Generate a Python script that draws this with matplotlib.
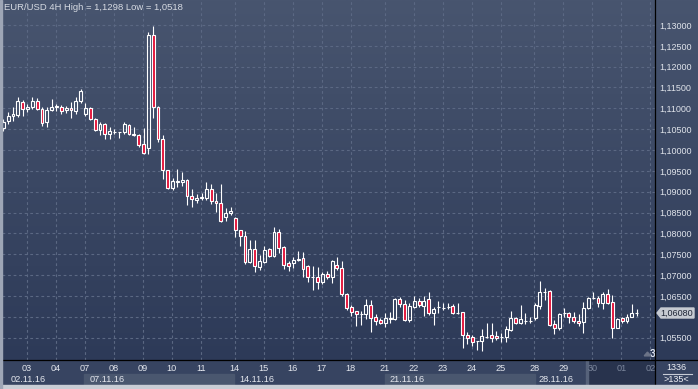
import numpy as np
import matplotlib
matplotlib.use("Agg")
import matplotlib.pyplot as plt
from matplotlib.patches import Rectangle, Polygon
from matplotlib.lines import Line2D
from matplotlib.colors import LinearSegmentedColormap

# EUR/USD 4H candles, 02.11.16 - 01.12.16
opens = [1.1053, 1.1070, 1.1082, 1.1084, 1.1116, 1.1098, 1.1102, 1.1118, 1.1098, 1.1066,
         1.1096, 1.1102, 1.1102, 1.1096, 1.1100, 1.1094, 1.1118, 1.1086, 1.1100, 1.1074,
         1.1048, 1.1062, 1.1038, 1.1042, 1.1042, 1.1042, 1.1059, 1.1038, 1.1036, 1.1014,
         1.1005, 1.1276, 1.1104, 1.1026, 1.0952, 1.0910, 1.0924, 1.0924, 1.0928, 1.0890,
         1.0880, 1.0884, 1.0884, 1.0906, 1.0878, 1.0872, 1.0838, 1.0848, 1.0836, 1.0808,
         1.0794, 1.0732, 1.0762, 1.0720, 1.0732, 1.0762, 1.0746, 1.0802, 1.0766, 1.0728,
         1.0728, 1.0736, 1.0740, 1.0722, 1.0696, 1.0696, 1.0682, 1.0702, 1.0696, 1.0724,
         1.0716, 1.0654, 1.0622, 1.0614, 1.0606, 1.0606, 1.0628, 1.0598, 1.0592, 1.0584,
         1.0594, 1.0594, 1.0642, 1.0630, 1.0592, 1.0624, 1.0638, 1.0626, 1.0642, 1.0608,
         1.0624, 1.0622, 1.0624, 1.0626, 1.0610, 1.0610, 1.0556, 1.0550, 1.0542, 1.0542,
         1.0552, 1.0556, 1.0554, 1.0552, 1.0552, 1.0568, 1.0596, 1.0585, 1.0590, 1.0590,
         1.0596, 1.0626, 1.0660, 1.0662, 1.0582, 1.0572, 1.0608, 1.0608, 1.0598, 1.0590,
         1.0588, 1.0622, 1.0645, 1.0645, 1.0632, 1.0654, 1.0634, 1.0574, 1.0596, 1.0590,
         1.0600, 1.0608]
closes = [1.1067, 1.1082, 1.1086, 1.1118, 1.1098, 1.1102, 1.1118, 1.1098, 1.1064, 1.1096,
          1.1104, 1.1106, 1.1094, 1.1100, 1.1096, 1.1118, 1.1142, 1.1100, 1.1074, 1.1048,
          1.1062, 1.1038, 1.1046, 1.1044, 1.1042, 1.1062, 1.1038, 1.1035, 1.1012, 1.0992,
          1.1276, 1.1104, 1.1026, 1.0952, 1.0910, 1.0926, 1.0926, 1.0928, 1.0890, 1.0882,
          1.0884, 1.0886, 1.0906, 1.0878, 1.0872, 1.0830, 1.0848, 1.0854, 1.0808, 1.0794,
          1.0732, 1.0762, 1.0722, 1.0734, 1.0760, 1.0746, 1.0802, 1.0766, 1.0724, 1.0722,
          1.0736, 1.0738, 1.0714, 1.0696, 1.0696, 1.0682, 1.0702, 1.0696, 1.0734, 1.0716,
          1.0654, 1.0622, 1.0612, 1.0606, 1.0606, 1.0628, 1.0596, 1.0590, 1.0586, 1.0596,
          1.0596, 1.0642, 1.0630, 1.0592, 1.0626, 1.0638, 1.0628, 1.0638, 1.0608, 1.0618,
          1.0624, 1.0622, 1.0624, 1.0608, 1.0610, 1.0556, 1.0550, 1.0538, 1.0542, 1.0554,
          1.0552, 1.0550, 1.0550, 1.0552, 1.0570, 1.0596, 1.0585, 1.0594, 1.0590, 1.0590,
          1.0628, 1.0658, 1.0660, 1.0580, 1.0574, 1.0606, 1.0608, 1.0598, 1.0590, 1.0584,
          1.0622, 1.0644, 1.0645, 1.0632, 1.0654, 1.0632, 1.0574, 1.0594, 1.0590, 1.0598,
          1.0608, 1.0608]
highs = [1.1074, 1.1090, 1.1102, 1.1126, 1.1120, 1.1110, 1.1126, 1.1124, 1.1102, 1.1102,
         1.1122, 1.1110, 1.1108, 1.1106, 1.1116, 1.1126, 1.1146, 1.1112, 1.1102, 1.1078,
         1.1066, 1.1064, 1.1056, 1.1050, 1.1043, 1.1066, 1.1062, 1.1056, 1.1038, 1.1054,
         1.1284, 1.1298, 1.1106, 1.1036, 1.0952, 1.0932, 1.0954, 1.0946, 1.0930, 1.0906,
         1.0894, 1.0896, 1.0922, 1.0918, 1.0896, 1.0918, 1.0860, 1.0862, 1.0838, 1.0808,
         1.0806, 1.0784, 1.0784, 1.0748, 1.0770, 1.0766, 1.0816, 1.0810, 1.0770, 1.0734,
         1.0742, 1.0758, 1.0756, 1.0724, 1.0722, 1.0718, 1.0708, 1.0710, 1.0736, 1.0742,
         1.0734, 1.0656, 1.0628, 1.0614, 1.0614, 1.0642, 1.0640, 1.0606, 1.0596, 1.0610,
         1.0612, 1.0646, 1.0648, 1.0640, 1.0632, 1.0650, 1.0644, 1.0650, 1.0658, 1.0624,
         1.0638, 1.0632, 1.0632, 1.0630, 1.0634, 1.0612, 1.0564, 1.0556, 1.0542, 1.0570,
         1.0585, 1.0584, 1.0566, 1.0562, 1.0578, 1.0614, 1.0600, 1.0628, 1.0608, 1.0600,
         1.0634, 1.0686, 1.0668, 1.0664, 1.0592, 1.0608, 1.0620, 1.0612, 1.0612, 1.0606,
         1.0636, 1.0648, 1.0658, 1.0650, 1.0658, 1.0666, 1.0652, 1.0596, 1.0598, 1.0606,
         1.0630, 1.0618]
lows = [1.1046, 1.1062, 1.1070, 1.1080, 1.1082, 1.1090, 1.1098, 1.1096, 1.1058, 1.1056,
        1.1094, 1.1094, 1.1086, 1.1088, 1.1078, 1.1086, 1.1112, 1.1082, 1.1072, 1.1046,
        1.1036, 1.1026, 1.1026, 1.1038, 1.1028, 1.1038, 1.1036, 1.1034, 1.1008, 1.0990,
        1.0990, 1.1078, 1.1020, 1.0930, 1.0906, 1.0904, 1.0912, 1.0914, 1.0868, 1.0862,
        1.0874, 1.0880, 1.0880, 1.0870, 1.0852, 1.0828, 1.0830, 1.0844, 1.0792, 1.0770,
        1.0726, 1.0730, 1.0708, 1.0712, 1.0728, 1.0744, 1.0744, 1.0752, 1.0714, 1.0710,
        1.0716, 1.0734, 1.0696, 1.0684, 1.0664, 1.0666, 1.0678, 1.0690, 1.0680, 1.0712,
        1.0650, 1.0616, 1.0602, 1.0578, 1.0580, 1.0594, 1.0564, 1.0580, 1.0582, 1.0576,
        1.0585, 1.0592, 1.0624, 1.0590, 1.0588, 1.0620, 1.0624, 1.0602, 1.0604, 1.0580,
        1.0608, 1.0616, 1.0618, 1.0606, 1.0606, 1.0524, 1.0534, 1.0530, 1.0520, 1.0518,
        1.0548, 1.0540, 1.0544, 1.0540, 1.0538, 1.0566, 1.0582, 1.0582, 1.0582, 1.0584,
        1.0592, 1.0618, 1.0640, 1.0578, 1.0558, 1.0568, 1.0600, 1.0586, 1.0585, 1.0578,
        1.0562, 1.0618, 1.0642, 1.0624, 1.0618, 1.0630, 1.0548, 1.0572, 1.0584, 1.0586,
        1.0598, 1.0602]

day_labels = ["03", "04", "07", "08", "09", "10", "11", "14", "15", "16", "17",
              "18", "21", "22", "23", "24", "25", "28", "29", "30", "01", "02"]
day_starts = [5, 11, 17, 23, 29, 35, 41, 48, 54, 60, 66,
              72, 79, 85, 91, 97, 103, 110, 116, 122, 128, 134]
week_labels = ["02.11.16", "07.11.16", "14.11.16", "21.11.16", "28.11.16"]
week_starts = [0.8, 17, 48, 79, 110]
price_ticks = [1.130, 1.125, 1.120, 1.115, 1.110, 1.105, 1.100, 1.095,
               1.090, 1.085, 1.080, 1.075, 1.070, 1.065, 1.060, 1.055]
last_price = 1.0608

W, H = 698, 389
fig = plt.figure(figsize=(W / 100, H / 100), dpi=100)
fig.patch.set_facecolor("#374461")

bg = LinearSegmentedColormap.from_list("bg", ["#48556f", "#2d3a58"])
grad = np.linspace(0, 1, 256).reshape(-1, 1)

# right price panel
ax_r = fig.add_axes([655 / W, 29 / H, 43 / W, 360 / H])
ax_r.imshow(grad, cmap=bg, aspect="auto", extent=[0, 1, 0, 1])
ax_r.set_axis_off()

# week boxes in the time axis
fig.add_artist(Rectangle((84 / W, 4 / H), 150 / W, 11 / H, transform=fig.transFigure,
                         color="#4a576f", zorder=-1))
fig.add_artist(Rectangle((385 / W, 4 / H), 150 / W, 11 / H, transform=fig.transFigure,
                         color="#4a576f", zorder=-1))
fig.add_artist(Rectangle((587 / W, 4 / H), 68 / W, 25 / H, transform=fig.transFigure,
                         color="#28334d", zorder=-1))
fig.add_artist(Rectangle((586 / W, 4 / H), 1.5 / W, 25 / H, transform=fig.transFigure,
                         color="#56627a", zorder=-1))

ax = fig.add_axes([2 / W, 29 / H, 653 / W, 360 / H])
x0, x1 = -0.27, 134.8
y0, y1 = 1.0496, 1.136
ax.imshow(grad, cmap=bg, aspect="auto", extent=[x0, x1, y0, y1], zorder=0)
ax.set_xlim(x0, x1)
ax.set_ylim(y0, y1)

idx = np.arange(len(opens))
o = np.array(opens)
c = np.array(closes)
top = np.maximum(o, c)
bot = np.minimum(o, c)
up = c >= o

ax.vlines(idx, top, highs, color="white", lw=0.8, zorder=3)
ax.vlines(idx, lows, bot, color="white", lw=0.8, zorder=3)
fills = ["none" if u else "#e3143a" for u in up]
ax.bar(idx, top - bot, bottom=bot, width=0.6, color=fills, edgecolor="white",
       linewidth=0.8, zorder=4)

# the 1,06000 label sits under the current-price tag, so it is left blank
ax.set_yticks(price_ticks)
ax.set_yticklabels(["" if abs(v - 1.06) < 1e-9 else f"{v:.5f}".replace(".", ",")
                    for v in price_ticks])
ax.yaxis.tick_right()
ax.tick_params(axis="y", length=0, pad=3, labelsize=6.5, labelcolor="#dfe3ea")
ax.set_xticks([d - 0.15 for d in day_starts])
ax.set_xticklabels(day_labels)
ax.tick_params(axis="x", length=0, pad=3, labelsize=6.6, labelcolor="#e4e7ee")
for lab, d in zip(ax.get_xticklabels(), day_starts):
    if d >= 122:
        lab.set_color("#7b869c")
for lab in ax.get_yticklabels():
    lab.set_fontfamily("Liberation Sans")
for lab in ax.get_xticklabels():
    lab.set_fontfamily("Liberation Sans")
ax.grid(True, color="#5b6883", lw=0.8, linestyle=(0, (2.5, 2.5)), zorder=1)
ax.set_axisbelow(True)
for s in ax.spines.values():
    s.set_visible(False)

for lab, ws in zip(week_labels, week_starts):
    ax.text(ws + 0.8, -0.055, lab, transform=ax.get_xaxis_transform(), ha="left",
            va="center", fontsize=6.6, color="#e4e7ee", family="Liberation Sans",
            clip_on=False)

ax.text(0.003, 0.978, "EUR/USD 4H High = 1,1298 Low = 1,0518", transform=ax.transAxes,
        ha="left", va="center", fontsize=6.8, color="#d6dae2", family="Liberation Sans")

# shift marker
ax.add_patch(Polygon([[0.9835, 0.0115], [0.9935, 0.0115], [0.9885, 0.022]],
                     closed=True, transform=ax.transAxes, color="#6c7488", zorder=5))
ax.text(0.9965, 0.017, "3", transform=ax.transAxes, ha="center", va="center",
        fontsize=7.5, color="#e6ecf8", family="Liberation Sans", weight="bold")

# corner box
ax_c = fig.add_axes([655.5 / W, 4 / H, 42.5 / W, 25 / H], zorder=2)
ax_c.set_facecolor("#374461")
ax_c.set_xticks([])
ax_c.set_yticks([])
for s in ax_c.spines.values():
    s.set_visible(False)
ax_c.text(0.5, 0.72, "1336", ha="center", va="center", fontsize=6.5,
          color="#eef0f5", family="Liberation Sans")
ax_c.plot([0.17, 0.85], [0.45, 0.45], color="#c8ccd6", lw=0.8)
ax_c.text(0.5, 0.2, ">135<", ha="center", va="center", fontsize=6.5,
          color="#eef0f5", family="Liberation Sans")
ax_c.set_xlim(0, 1)
ax_c.set_ylim(0, 1)

# current price tag
py = 1 - 313 / H
tag = Polygon([[657 / W, py], [661 / W, py + 5 / H], [694 / W, py + 5 / H],
               [694 / W, py - 5 / H], [661 / W, py - 5 / H]], closed=True,
              transform=fig.transFigure, color="#c6cad2", zorder=6)
fig.add_artist(tag)
fig.text(677 / W, py, f"{last_price:.5f}".replace(".", ","), ha="center", va="center",
         fontsize=6.5, color="#1e2536", family="Liberation Sans", zorder=7)

# separators and frame strips
fig.add_artist(Line2D([655 / W, 655 / W], [4 / H, 1], transform=fig.transFigure,
                      color="black", lw=0.9, zorder=8))
fig.add_artist(Line2D([0, 1], [29 / H, 29 / H], transform=fig.transFigure,
                      color="black", lw=0.9, zorder=8))
fig.add_artist(Rectangle((0, 0), 1, 4 / H, transform=fig.transFigure,
                         color="#c9cdd5", zorder=9))
fig.add_artist(Rectangle((0, 0), 1.6 / W, 1, transform=fig.transFigure,
                         color="#9ea6b6", zorder=9))

fig.savefig("out.png", dpi=100, facecolor=fig.get_facecolor())
